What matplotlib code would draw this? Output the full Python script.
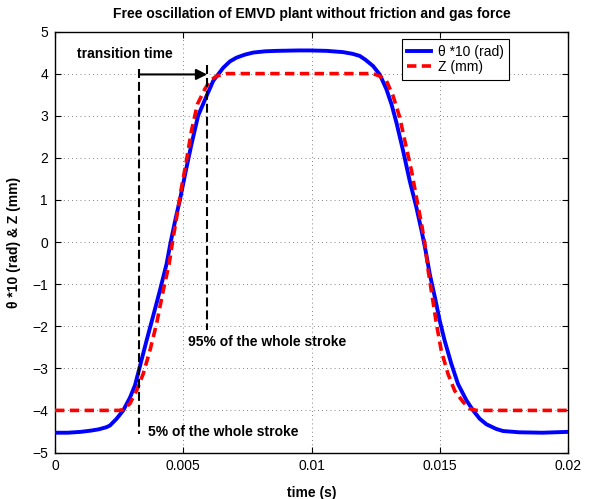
import matplotlib
matplotlib.use("Agg")
import matplotlib.pyplot as plt

plt.rcParams['font.family'] = ['Liberation Sans', 'DejaVu Sans']

# ---- data ----
t_theta = [0.0, 0.0005, 0.0010, 0.0014, 0.0017, 0.0020, 0.00214, 0.0024, 0.00266,
           0.00292, 0.00312, 0.00329, 0.00357, 0.00383, 0.00409, 0.00435, 0.00451,
           0.00471, 0.00487, 0.00510, 0.00532, 0.00558, 0.00591, 0.00617, 0.00656,
           0.00682, 0.00708, 0.0074, 0.00773, 0.0082, 0.00864, 0.0095, 0.00994,
           0.01060, 0.01123, 0.0116, 0.01188, 0.0121, 0.0124, 0.01266, 0.01292,
           0.01312, 0.01331, 0.01357, 0.01383, 0.01409, 0.01429, 0.01445, 0.01461,
           0.01481, 0.01500, 0.01519, 0.01545, 0.01571, 0.01604, 0.01630, 0.01656,
           0.01682, 0.01720, 0.01747, 0.01810, 0.0190, 0.0200]
theta10 = [-4.53, -4.53, -4.51, -4.48, -4.45, -4.40, -4.36, -4.20, -4.00,
           -3.70, -3.40, -3.00, -2.34, -1.75, -1.15, -0.52, 0.0,
           0.58, 1.00, 1.69, 2.32, 3.00, 3.47, 3.83, 4.14,
           4.29, 4.38, 4.45, 4.50, 4.53, 4.54, 4.55, 4.55,
           4.54, 4.51, 4.47, 4.42, 4.33, 4.18, 3.98, 3.63,
           3.27, 2.84, 2.17, 1.45, 0.82, 0.27, -0.21, -0.76,
           -1.31, -1.87, -2.34, -2.89, -3.37, -3.76, -4.00, -4.20,
           -4.33, -4.44, -4.49, -4.52, -4.53, -4.51]

t_z = [0.0, 0.0020, 0.0025, 0.00266, 0.00292, 0.00318, 0.00344, 0.00370, 0.00396,
       0.00422, 0.00445, 0.00458, 0.00474, 0.00491, 0.00510, 0.00532, 0.00555,
       0.00584, 0.00604, 0.00630, 0.00669, 0.0124, 0.01266, 0.01292, 0.01318,
       0.01344, 0.01364, 0.01390, 0.01409, 0.01429, 0.01442, 0.01455, 0.01471,
       0.01487, 0.01506, 0.01532, 0.01558, 0.01591, 0.01617, 0.01643, 0.0200]
z_mm = [-4.0, -4.0, -4.0, -3.98, -3.84, -3.53, -3.13, -2.58, -1.94,
        -1.15, -0.52, 0.0, 0.58, 1.22, 1.85, 2.64, 3.27,
        3.63, 3.83, 3.94, 4.0, 4.0, 3.94, 3.83, 3.47,
        2.96, 2.40, 1.69, 1.06, 0.43, -0.05, -0.68, -1.31,
        -1.94, -2.58, -3.13, -3.53, -3.80, -3.96, -4.0, -4.0]

t_5pct = 0.00329
t_95pct = 0.00593

x_ticks = [0, 0.005, 0.01, 0.015, 0.02]
x_ticklabels = ['0', '0.005', '0.01', '0.015', '0.02']
y_ticks = list(range(-5, 6))

fig = plt.figure(figsize=(5.89, 4.99), dpi=100)
ax = fig.add_axes([55/589, 1-452.5/499, 513/589, 421/499])

ax.plot(t_theta, theta10, color='#0000ff', lw=2.8, label='\u03b8 *10 (rad)', zorder=3)
ax.plot(t_z, z_mm, color='#ff0000', lw=2.6, dashes=(2.6, 1.5), label='Z (mm)', zorder=4)

# annotation lines
ax.plot([t_5pct, t_5pct], [4.12, -4.55], color='k', lw=1.5, dashes=(4.3, 1.9), zorder=5)
ax.plot([t_95pct, t_95pct], [4.2, -2.1], color='k', lw=1.5, dashes=(4.3, 1.9), zorder=5)
ax.annotate('', xy=(t_95pct, 3.98), xytext=(t_5pct, 3.98),
            arrowprops=dict(arrowstyle='-|>', color='k', lw=1.5, mutation_scale=16,
                            shrinkA=0, shrinkB=0), zorder=6)

ax.text(0.00273, 4.47, 'transition time', fontsize=10, fontweight='bold',
        ha='center', va='center')
ax.text(0.00519, -2.38, '95% of the whole stroke', fontsize=10, fontweight='bold',
        ha='left', va='center')
ax.text(0.00361, -4.52, '5% of the whole stroke', fontsize=10, fontweight='bold',
        ha='left', va='center')

ax.set_xlim(0, 0.02)
ax.set_ylim(-5, 5)
ax.set_xticks(x_ticks)
ax.set_xticklabels(x_ticklabels)
ax.set_yticks(y_ticks)
ax.set_yticklabels([str(v).replace('-', '\u2212') for v in y_ticks])
ax.tick_params(direction='in', length=4, width=0.8, top=True, right=True,
               labelsize=10, pad=5)
for s in ax.spines.values():
    s.set_linewidth(1.0)
ax.grid(True, color='0.35', lw=0.6, linestyle=(0, (1, 4)))
ax.set_axisbelow(True)

ax.set_title('Free oscillation of EMVD plant without friction and gas force',
             fontsize=10, fontweight='bold', pad=10)
ax.set_xlabel('time (s)', fontsize=10, fontweight='bold', labelpad=9)
ax.set_ylabel('\u03b8 *10 (rad) & Z (mm)', fontsize=10, fontweight='bold', labelpad=8)

leg = ax.legend(loc='upper left', bbox_to_anchor=((401.7-55)/513, (452.5-39.3)/421),
                borderaxespad=0, fontsize=10, handlelength=1.7, handletextpad=0.5,
                borderpad=0.4, labelspacing=0.1, fancybox=False, framealpha=1,
                edgecolor='k')
leg.get_frame().set_linewidth(0.8)

fig.savefig('out.png', dpi=100)
